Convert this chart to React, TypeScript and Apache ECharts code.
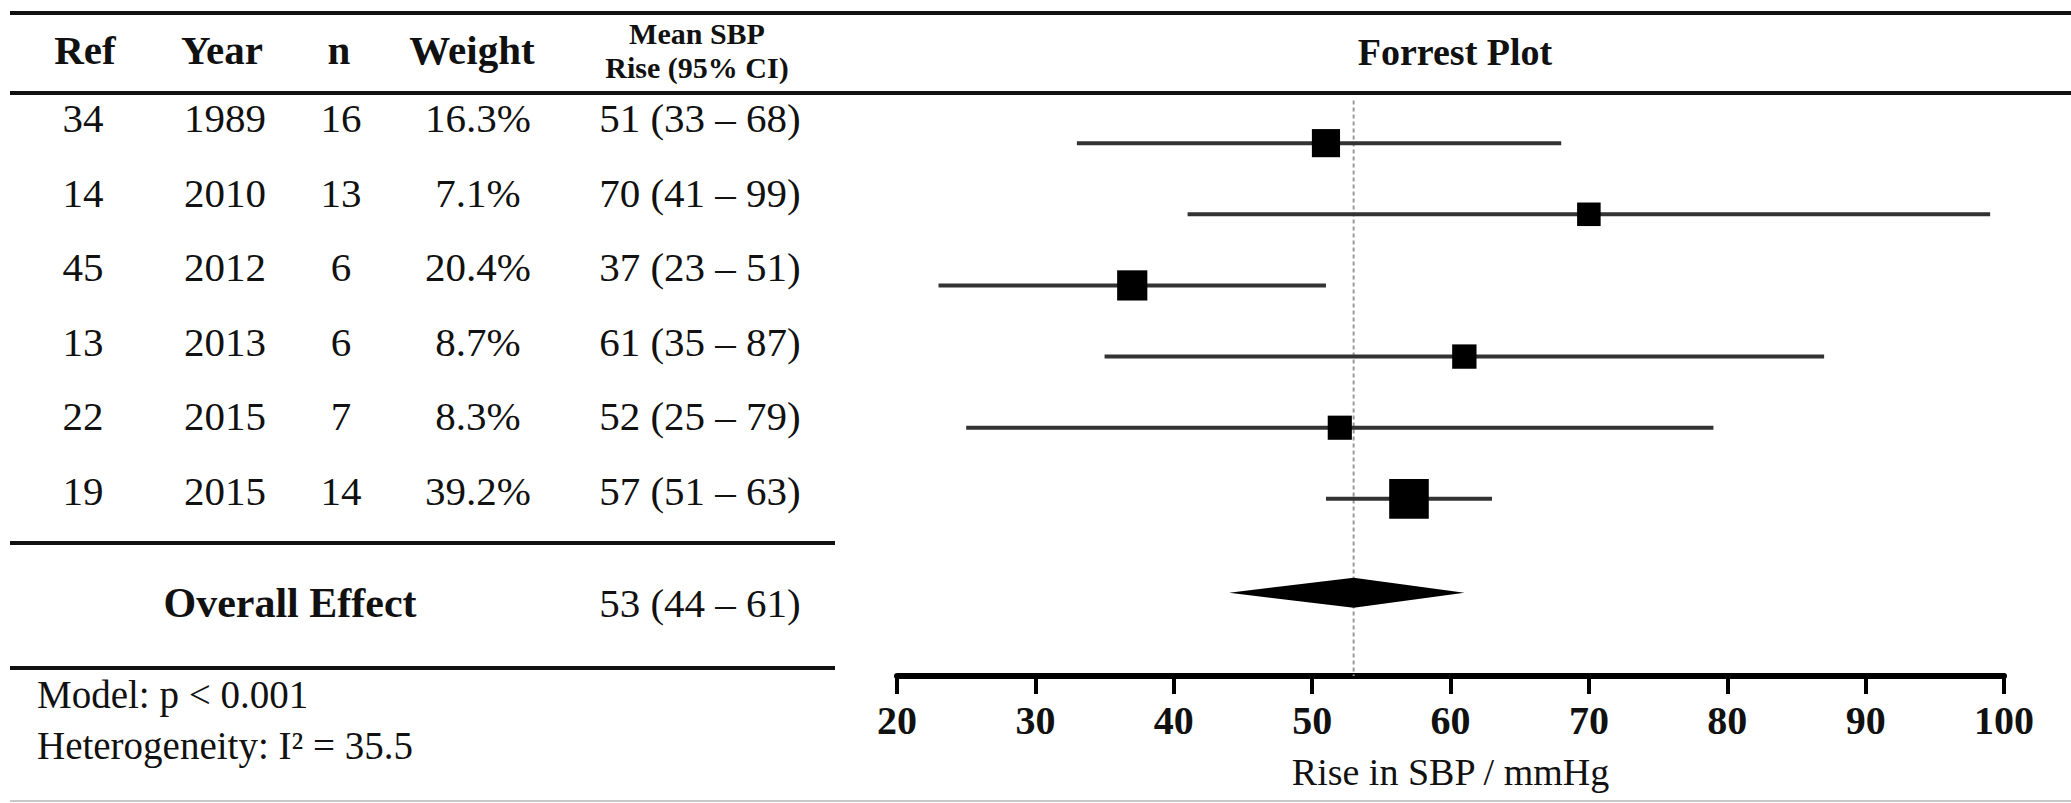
import React, { useEffect, useRef } from "react";
import * as echarts from "echarts";

// ---------- data ----------
const refs = ["34", "14", "45", "13", "22", "19"];
const years = ["1989", "2010", "2012", "2013", "2015", "2015"];
const ns = [16, 13, 6, 6, 7, 14];
const weights = [16.3, 7.1, 20.4, 8.7, 8.3, 39.2];
const means = [51, 70, 37, 61, 52, 57];
const lows = [33, 41, 23, 35, 25, 51];
const highs = [68, 99, 51, 87, 79, 63];
const overallMean = 53;
const overallLow = 44;
const overallHigh = 61;
const xMin = 20;
const xMax = 100;
const xInterval = 10;
const headers = ["Ref", "Year", "n", "Weight"];
const ciHeader = ["Mean SBP", "Rise (95% CI)"];
const plotTitle = "Forrest Plot";
const axisTitle = "Rise in SBP / mmHg";
const overallLabel = "Overall Effect";
const modelText = "Model: p < 0.001";
const heteroText = "Heterogeneity: I\u00B2 = 35.5";

// ---------- layout ----------
const W = 2071;
const H = 803;
const FONT = '"Liberation Serif", "Times New Roman", serif';
const COLS = [83, 225, 341, 478, 700];
const HEAD_COLS = [85, 222, 339, 472, 697];
const ROW_Y0 = 118;
const ROW_STEP = 74.5;
const DIAMOND_Y = 6.32; // plot row index for diamond
const REF_TOP = -0.6;
const Y_MIN = -1;
const Y_MAX = 7.49;

const ci = (m: number, l: number, h: number) => `${m} (${l} \u2013 ${h})`;

function hline(x1: number, x2: number, y: number, w: number, color = "#111") {
  return {
    type: "line",
    silent: true,
    shape: { x1, y1: y, x2, y2: y },
    style: { stroke: color, lineWidth: w },
  };
}

function txt(
  x: number,
  y: number,
  text: string,
  size: number,
  bold = false,
  align: "left" | "center" | "right" = "center"
) {
  return {
    type: "text",
    silent: true,
    x,
    y,
    style: {
      text,
      fontSize: size,
      fontFamily: FONT,
      fontWeight: bold ? "bold" : "normal",
      fill: "#111",
      textAlign: align,
      textVerticalAlign: "middle",
      align,
      verticalAlign: "middle",
    },
  };
}

export default function App() {
  const ref = useRef<HTMLDivElement>(null);

  useEffect(() => {
    document.body.style.margin = "0";
    const chart = echarts.init(ref.current!, null, { renderer: "svg" });

    const graphics: any[] = [];
    // table rules
    graphics.push(hline(10, W, 13, 4));
    graphics.push(hline(10, W, 93, 4));
    graphics.push(hline(10, 835, 543, 4));
    graphics.push(hline(10, 835, 668, 4));
    graphics.push(hline(10, W, 801, 2, "#c8c8c8"));

    // headers
    headers.forEach((h, i) => graphics.push(txt(HEAD_COLS[i], 50, h, 41, true)));
    graphics.push(txt(HEAD_COLS[4], 33, ciHeader[0], 30, true));
    graphics.push(txt(HEAD_COLS[4], 67, ciHeader[1], 30, true));
    graphics.push(txt(1455, 52, plotTitle, 38, true));

    // rows
    refs.forEach((r, i) => {
      const y = ROW_Y0 + i * ROW_STEP;
      graphics.push(txt(COLS[0], y, r, 41));
      graphics.push(txt(COLS[1], y, years[i], 41));
      graphics.push(txt(COLS[2], y, String(ns[i]), 41));
      graphics.push(txt(COLS[3], y, `${weights[i].toFixed(1)}%`, 41));
      graphics.push(txt(COLS[4], y, ci(means[i], lows[i], highs[i]), 41));
    });

    graphics.push(txt(290, 603, overallLabel, 42, true));
    graphics.push(txt(COLS[4], 603, ci(overallMean, overallLow, overallHigh), 41));
    graphics.push(txt(37, 694, modelText, 39, false, "left"));
    graphics.push(txt(37, 745, heteroText, 39, false, "left"));

    const studyData = refs.map((_, i) => [i, lows[i], means[i], highs[i], weights[i]]);

    const option: any = {
      animation: false,
      backgroundColor: "#fff",
      grid: { left: 897, right: W - 2004, top: 72, height: 604, containLabel: false },
      xAxis: {
        type: "value",
        min: xMin,
        max: xMax,
        interval: xInterval,
        position: "bottom",
        splitLine: { show: false },
        axisLine: { show: true, onZero: false, lineStyle: { color: "#000", width: 6 } },
        axisTick: { show: true, length: 18, lineStyle: { color: "#000", width: 4 } },
        axisLabel: {
          show: true,
          fontSize: 40,
          fontFamily: FONT,
          fontWeight: "bold",
          color: "#111",
          margin: 24,
          showMinLabel: true,
          showMaxLabel: true,
        },
        name: axisTitle,
        nameLocation: "middle",
        nameGap: 77,
        nameTextStyle: { fontSize: 38, fontFamily: FONT, color: "#111" },
      },
      yAxis: {
        type: "value",
        min: Y_MIN,
        max: Y_MAX,
        inverse: true,
        show: false,
      },
      series: [
        {
          type: "line",
          data: [
            [overallMean, REF_TOP],
            [overallMean, Y_MAX],
          ],
          symbol: "none",
          silent: true,
          z: 1,
          lineStyle: { color: "#9a9a9a", width: 2, type: [4, 3] },
        },
        {
          type: "custom",
          z: 3,
          silent: true,
          data: studyData,
          encode: { x: [1, 2, 3], y: 0 },
          renderItem: (params: any, api: any) => {
            const i = api.value(0);
            const lo = api.value(1);
            const m = api.value(2);
            const hi = api.value(3);
            const w = api.value(4);
            const p1 = api.coord([lo, i]);
            const p2 = api.coord([hi, i]);
            const pm = api.coord([m, i]);
            const s = 20 + 0.5 * w;
            return {
              type: "group",
              children: [
                {
                  type: "line",
                  shape: { x1: p1[0], y1: p1[1], x2: p2[0], y2: p2[1] },
                  style: { stroke: "#333", lineWidth: 4 },
                },
                {
                  type: "rect",
                  shape: { x: pm[0] - s / 2, y: pm[1] - s / 2, width: s, height: s },
                  style: { fill: "#000" },
                },
              ],
            };
          },
        },
        {
          type: "custom",
          z: 3,
          silent: true,
          data: [[overallLow, overallMean, overallHigh, DIAMOND_Y]],
          encode: { x: [0, 1, 2], y: 3 },
          renderItem: (params: any, api: any) => {
            const y = api.value(3);
            const a = api.coord([api.value(0), y]);
            const b = api.coord([api.value(1), y]);
            const c = api.coord([api.value(2), y]);
            const hh = 15;
            return {
              type: "polygon",
              shape: {
                points: [
                  [a[0], a[1]],
                  [b[0], b[1] - hh],
                  [c[0], c[1]],
                  [b[0], b[1] + hh],
                ],
              },
              style: { fill: "#000" },
            };
          },
        },
      ],
      graphic: { elements: graphics },
    };

    chart.setOption(option);
    return () => chart.dispose();
  }, []);

  return <div ref={ref} style={{ width: W, height: H }} />;
}
